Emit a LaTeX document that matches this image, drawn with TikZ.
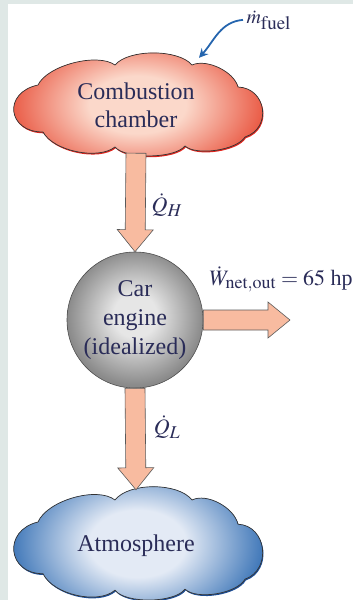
\documentclass[tikz,border=0pt]{standalone}
\usepackage{amsmath}
\usepackage{mathptmx}
\usepackage{fontspec}
\setmainfont{Liberation Serif}
\usetikzlibrary{positioning,calc,arrows.meta,shadows}

\DeclareMathSizes{22}{22}{18}{14}
\DeclareMathSizes{20}{20}{19}{14}

\definecolor{panelgray}{HTML}{DFE8E6}
\definecolor{inknavy}{HTML}{2A2C58}
\definecolor{firein}{HTML}{FBD8CA}
\definecolor{fireout}{HTML}{E84E38}
\definecolor{fireedge}{HTML}{E3231B}
\definecolor{airin}{HTML}{E3EAF5}
\definecolor{airout}{HTML}{2E6BB2}
\definecolor{airedge}{HTML}{1D4E97}
\definecolor{metalin}{HTML}{E6E6E6}
\definecolor{metalout}{HTML}{8A8A8A}
\definecolor{heatfill}{HTML}{F8BBA0}
\definecolor{heatline}{HTML}{5A5A5A}
\definecolor{fuelblue}{HTML}{2565AE}

\pgfdeclareradialshading{fireshade}{\pgfpoint{0bp}{0bp}}{color(0bp)=(firein); color(9bp)=(firein); color(25bp)=(fireout); color(50bp)=(fireout)}
\pgfdeclareradialshading{airshade}{\pgfpoint{0bp}{0bp}}{color(0bp)=(airin); color(9bp)=(airin); color(25bp)=(airout); color(50bp)=(airout)}
\pgfdeclareradialshading{metalshade}{\pgfpoint{0bp}{2bp}}{color(0bp)=(metalin); color(8bp)=(metalin); color(25bp)=(metalout); color(50bp)=(metalout)}

% outline of a cloud, around (0,0)
\newcommand{\cloudoutline}{(-98,-20)
    to[bend left=50, looseness=.7] (-21,-40)
    to[bend left=50, looseness=.7] (56,-40)
    to[bend left=50, looseness=.8] (102,-18)
    to[bend left=80, looseness=1.45] (109,32)
    to[bend left=50, looseness=.65] (49,41)
    to[bend left=50, looseness=.6] (-21,42)
    to[bend left=50, looseness=.75] (-93,27)
    to[bend left=84, looseness=1.95] (-98,-20) -- cycle}

\begin{document}
\begin{tikzpicture}[
        x=1pt, y=-1pt,
        every node/.style={text=inknavy},
        cloudline/.style={draw=black!80, line width=0.7pt, line join=round},
        puff/.style={rectangle, minimum width=252pt, align=center, font=\fontsize{24}{28}\selectfont},
        fireglow/.style={fill=fireout, path picture={\shade[shading=fireshade]
            (path picture bounding box.center) ellipse [x radius=130pt, y radius=80pt];}},
        airglow/.style={fill=airout, path picture={\shade[shading=airshade]
            (path picture bounding box.center) ellipse [x radius=130pt, y radius=85pt];}},
        engine/.style={circle, minimum size=136pt, inner sep=0pt, draw=black!70, line width=0.6pt,
            shading=metalshade, font=\fontsize{24}{29}\selectfont},
        flux/.style={font=\fontsize{22}{26}\selectfont},
        heatflow/.style={draw=heatline, fill=heatfill, line width=0.6pt, line join=miter,
            to path={($(\tikztostart)!10pt!90:(\tikztotarget)$)
                -- ($(\tikztotarget)!22pt!(\tikztostart)!10pt!-90:(\tikztostart)$)
                -- ($(\tikztotarget)!22pt!(\tikztostart)!18pt!-90:(\tikztostart)$)
                -- (\tikztotarget)
                -- ($(\tikztotarget)!22pt!(\tikztostart)!18pt!90:(\tikztostart)$)
                -- ($(\tikztotarget)!22pt!(\tikztostart)!10pt!90:(\tikztostart)$)
                -- ($(\tikztostart)!10pt!-90:(\tikztotarget)$) -- cycle}},
        fuelflow/.style={-{Stealth[length=9pt,width=9pt]}, draw=fuelblue, line width=1.8pt}
    ]
    % frame of the page
    \fill[panelgray] (0,0) rectangle (8,600);
    \fill[panelgray] (0,0) rectangle (353,4);
    \useasboundingbox (0,0) rectangle (353,600);

    % the two clouds
    \begin{scope}[shift={(136,105)}]
        \path[cloudline, fireglow,
            drop shadow={shadow xshift=0.8pt, shadow yshift=-1.3pt, fill=fireedge, opacity=1}] \cloudoutline;
    \end{scope}
    \begin{scope}[shift={(136,544)}, yscale=1.1]
        \path[cloudline, airglow,
            drop shadow={shadow xshift=0.8pt, shadow yshift=-1.3pt, fill=airedge, opacity=1}] \cloudoutline;
    \end{scope}

    \node[puff, minimum height=95pt] (chamber) at (136,105.5) {Combustion\\chamber};
    \node[engine] (engine) at (135,320)
        {\raisebox{5pt}{\begin{tabular}{@{}c@{}}Car\\engine\\(idealized)\end{tabular}}};
    \node[puff, minimum height=112pt] (atmos) at (136,546) {Atmosphere};
    \coordinate (wtip) at (290,320);
    \coordinate (fuelin) at ($(chamber.north)+(63,0)$);

    % heat and work flows
    \draw[heatflow] (chamber.south) to (engine.north);
    \draw[heatflow] (engine.east) to (wtip);
    \draw[heatflow] (engine.south) to (atmos.north);

    \node[flux] (qh) at (167,205) {$\dot{Q}_H$};
    \node[flux] (ql) at (167,427) {$\dot{Q}_L$};
    \node[flux, anchor=base west] (wnet) at (206,285) {$\dot{W}_{\mathrm{net,out}} = 65$ hp};

    % fuel supply
    \node[font=\fontsize{20}{22}\selectfont, anchor=base west] (mfuel) at (243,23) {$\dot{m}_{\mathrm{fuel}}$};
    \draw[fuelflow] (mfuel.west) to[out=185, in=48] (fuelin);
\end{tikzpicture}
\end{document}
